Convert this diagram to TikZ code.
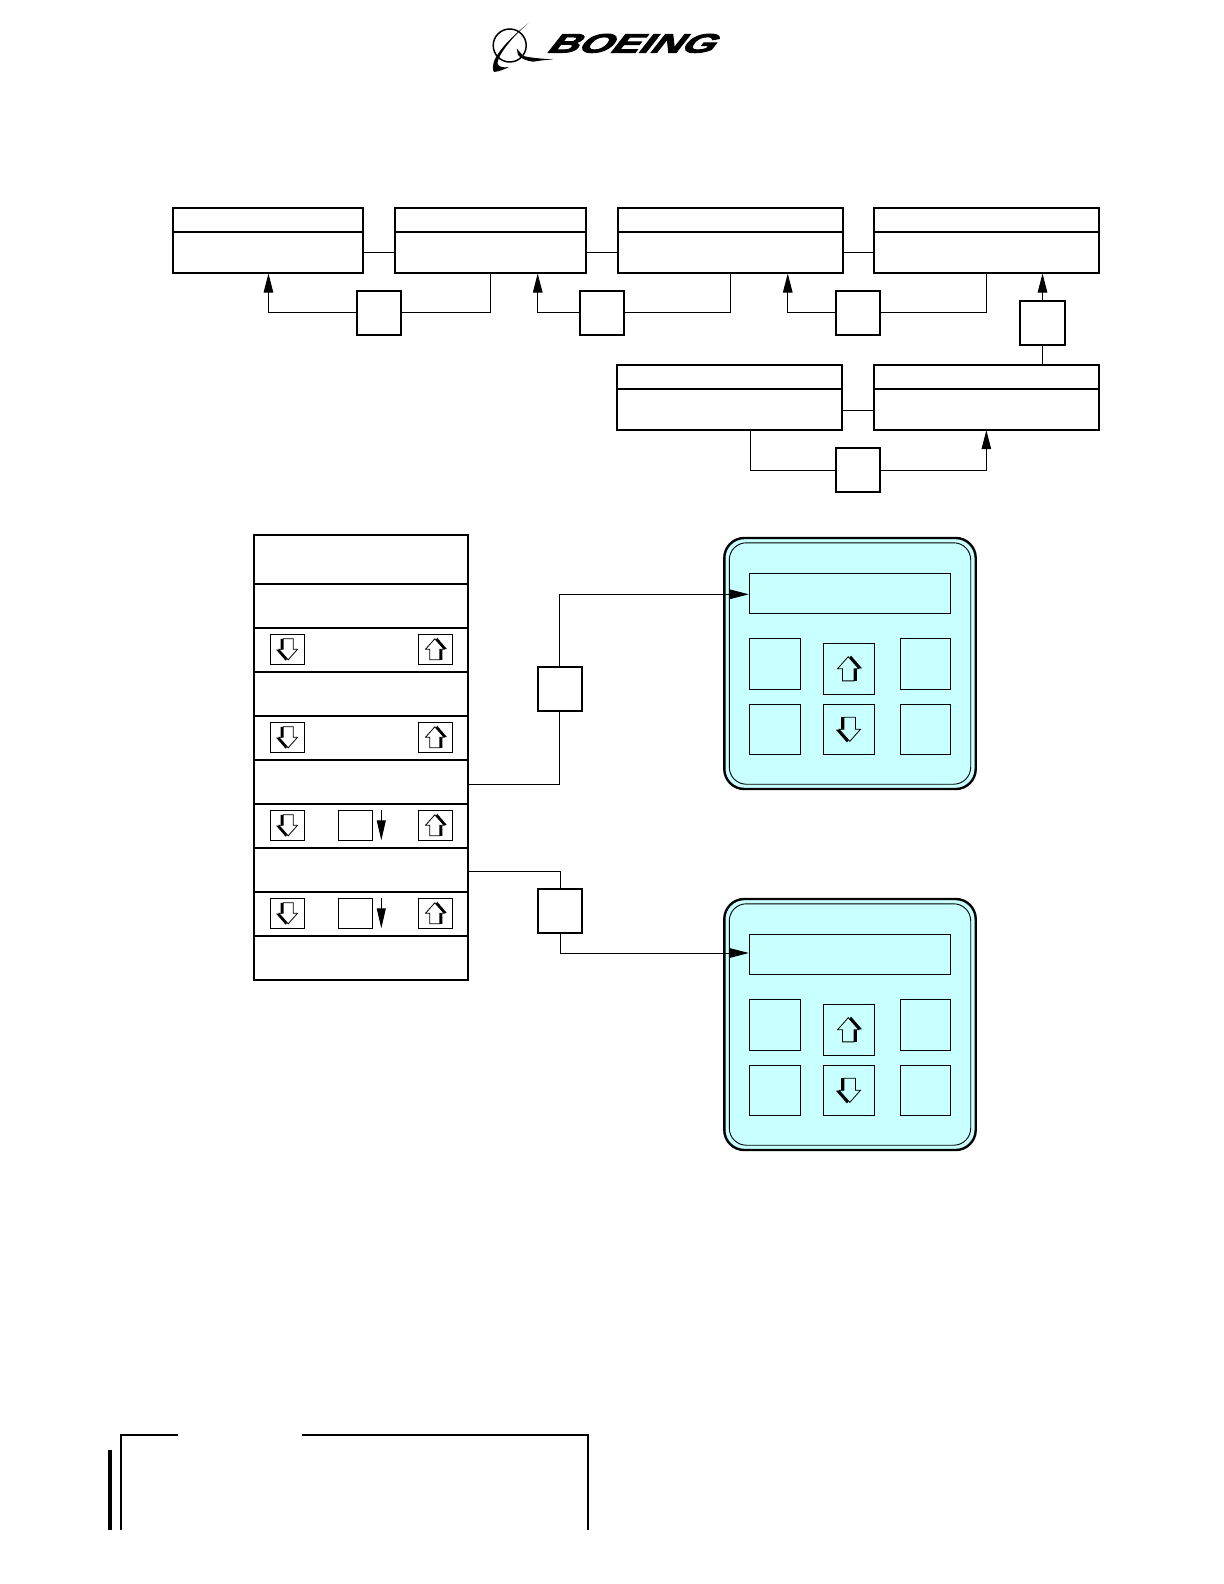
\documentclass[tikz,border=0pt]{standalone}
\usepackage{fontspec}
\usepackage{tikz}
\usepackage{xcolor}
\usetikzlibrary{arrows.meta,positioning}

\newfontfamily\logofont[UprightFont=* Bold,FakeSlant=0.5,FakeBold=3]{Liberation Sans}
\definecolor{panelcyan}{HTML}{C8FFFF}

\tikzset{
    keyup/.pic={
        \fill[black] (1.8,-11.4) -- (11.4,-.3) -- (6.8,-.3) -- (6.8,10.5) -- (-3.2,10.5) -- (-3.2,0) -- (-7.5,0) -- cycle;
        \draw[fill=#1, line width=.8pt] (-.7,-10.5) -- (8.6,0) -- (4.3,0) -- (4.3,10.5) -- (-5.7,10.5) -- (-5.7,0) -- (-10,0) -- cycle;
    },
    panel/.pic={
        \node[panelback] (-back) at (0,0) {};
        \node[panelinner] (-inner) at (0,0) {};
        \node[screenbox] (-screen) at (-.2,-70.2) {};
        \node[panelkey, minimum height=51pt] (-keya) at (-75,.3) {};
        \node[panelkey, minimum height=51pt] (-keyb) at (-1,5.3) {};
        \node[panelkey, minimum width=50pt, minimum height=51pt] (-keyc) at (75.3,.3) {};
        \node[panelkey] (-keyd) at (-75,65.8) {};
        \node[panelkey] (-keye) at (-1,65.8) {};
        \node[panelkey, minimum width=50pt] (-keyf) at (75.3,65.8) {};
        \pic[scale=1.15] at (-1,5.3) {keyup=panelcyan};
        \pic[scale=1.15, rotate=180] at (-1,65.8) {keyup=panelcyan};
    }
}

\begin{document}
\begin{tikzpicture}[
    x=1pt, y=-1pt,
    >={Triangle[length=19pt,width=9.5pt]},
    headbox/.style={rectangle, draw, line width=2pt, outer sep=0pt, minimum height=24pt},
    bodybox/.style={rectangle, draw, line width=2pt, outer sep=0pt, minimum height=41pt},
    stepsquare/.style={rectangle, draw, line width=2pt, outer sep=0pt, minimum size=44pt},
    rowbox/.style={rectangle, draw, line width=2pt, outer sep=0pt, minimum width=214pt, minimum height=44pt},
    rowkey/.style={rectangle, draw, line width=.9pt, outer sep=0pt, minimum width=34.4pt, minimum height=30pt, yshift=.7pt},
    panelback/.style={rectangle, draw, line width=2.4pt, fill=panelcyan, rounded corners=20pt, minimum width=251.4pt, minimum height=251pt},
    panelinner/.style={rectangle, draw, line width=.9pt, rounded corners=17pt, minimum width=241.4pt, minimum height=241.4pt},
    screenbox/.style={rectangle, draw, line width=.9pt, outer sep=0pt, minimum width=201pt, minimum height=40pt},
    panelkey/.style={rectangle, draw, line width=.9pt, outer sep=0pt, minimum width=51.4pt, minimum height=50pt},
    link/.style={line width=1pt},
    arrow/.style={->, line width=1pt, shorten >=.5pt},
    downtick/.style={-{Triangle[length=20pt,width=9pt]}, line width=1pt},
    rule/.style={line width=2pt}
]
\useasboundingbox (0,0) rectangle (1223,1584);

% logo
\draw[line width=1.5pt] (509.7,45.5) circle (16.5);
\fill (528.3,23.3) .. controls (512,36) and (499,50) .. (494.5,60) .. controls (492.5,65) and (492.5,70) .. (494,72)
    .. controls (499,71.5) and (504,69.5) .. (509,67) .. controls (503,68) and (498,67) .. (497.5,63)
    .. controls (498,55) and (512,37) .. (528.3,23.3) -- cycle;
\fill (516.7,48.5) -- (523.3,56) .. controls (532,58) and (542,58.8) .. (553.3,59.3)
    .. controls (545,60) and (538,60.8) .. (533.3,61.7) .. controls (527,61) and (521,59) .. (518,55) -- cycle;
\node[inner sep=0pt] (logotext) at (628.5,43.4) {\resizebox{166pt}{18.7pt}{\logofont BOEING}};

% top chain
\node[headbox, minimum width=190.3pt, anchor=north west] (boxa) at (172.7,208) {};
\node[bodybox, minimum width=190.3pt, below=0pt of boxa] (bodya) {};
\node[headbox, minimum width=191pt, right=32pt of boxa] (boxb) {};
\node[bodybox, minimum width=191pt, below=0pt of boxb] (bodyb) {};
\node[headbox, minimum width=225.3pt, right=31.7pt of boxb] (boxc) {};
\node[bodybox, minimum width=225.3pt, below=0pt of boxc] (bodyc) {};
\node[headbox, minimum width=225.3pt, right=30.7pt of boxc] (boxd) {};
\node[bodybox, minimum width=225.3pt, below=0pt of boxd] (bodyd) {};

\node[headbox, minimum width=225.3pt, anchor=north west] (boxf) at (873.7,364.7) {};
\node[bodybox, minimum width=225.3pt, below=0pt of boxf] (bodyf) {};
\node[headbox, minimum width=225.3pt, left=31.7pt of boxf] (boxe) {};
\node[bodybox, minimum width=225.3pt, below=0pt of boxe] (bodye) {};

\node[stepsquare] (sqa) at (379.3,312.8) {};
\node[stepsquare] (sqb) at (602,312.8) {};
\node[stepsquare] (sqc) at (858,312.8) {};
\node[stepsquare, minimum width=45pt] (sqd) at (1042.5,322.8) {};
\node[stepsquare] (sqe) at (858,470.4) {};

\draw[link] (bodya.east) -- (bodya.east -| bodyb.west);
\draw[link] (bodyb.east) -- (bodyb.east -| bodyc.west);
\draw[link] (bodyc.east) -- (bodyc.east -| bodyd.west);
\draw[link] ([yshift=-1pt]bodye.east) -- ([yshift=-1pt]bodye.east -| bodyf.west);

\draw[arrow] (sqa.west) -| ([xshift=.6pt]bodya.south);
\draw[link] (sqa.east) -| (bodyb.south);
\draw[arrow] (sqb.west) -| ([xshift=47.2pt]bodyb.south);
\draw[link] (sqb.east) -| (bodyc.south);
\draw[arrow] (sqc.west) -| ([xshift=57.4pt]bodyc.south);
\draw[link] (sqc.east) -| (bodyd.south);
\draw[arrow] (sqd.north) -- (sqd.north |- bodyd.south);
\draw[link] (boxf.north -| sqd.south) -- (sqd.south);
\draw[link] ([xshift=21pt]bodye.south) |- (sqe.west);
\draw[arrow] (sqe.east) -| (bodyf.south);

% left column
\node[rowbox, minimum height=49pt, anchor=north west] (rowa) at (254,535) {};
\node[rowbox, below=0pt of rowa] (rowb) {};
\node[rowbox, below=0pt of rowb] (rowc) {};
\node[rowbox, below=0pt of rowc] (rowd) {};
\node[rowbox, below=0pt of rowd] (rowe) {};
\node[rowbox, below=0pt of rowe] (rowf) {};
\node[rowbox, below=0pt of rowf] (rowg) {};
\node[rowbox, below=0pt of rowg] (rowh) {};
\node[rowbox, below=0pt of rowh] (rowi) {};
\node[rowbox, below=0pt of rowi] (rowj) {};

\node[rowkey, right=16.3pt of rowc.west] (dnc) {};
\node[rowkey, left=15.3pt of rowc.east] (upc) {};
\node[rowkey, right=16.3pt of rowe.west] (dne) {};
\node[rowkey, left=15.3pt of rowe.east] (upe) {};
\node[rowkey, right=16.3pt of rowg.west] (dng) {};
\node[rowkey, left=15.3pt of rowg.east] (upg) {};
\node[rowkey] (midg) at ([xshift=-5.5pt]rowg.center) {};
\node[rowkey, right=16.3pt of rowi.west] (dni) {};
\node[rowkey, left=15.3pt of rowi.east] (upi) {};
\node[rowkey] (midi) at ([xshift=-5.5pt]rowi.center) {};

\pic[rotate=180] at (dnc) {keyup=white};
\pic at (upc) {keyup=white};
\pic[rotate=180] at (dne) {keyup=white};
\pic at (upe) {keyup=white};
\pic[rotate=180] at (dng) {keyup=white};
\pic at (upg) {keyup=white};
\pic[rotate=180] at (dni) {keyup=white};
\pic at (upi) {keyup=white};

\draw[downtick] ([xshift=8.6pt]midg.north east) -- ([xshift=8.6pt]midg.south east);
\draw[downtick] ([xshift=8.6pt]midi.north east) -- ([xshift=8.6pt]midi.south east);

% panels
\pic (pa) at (850,663.5) {panel};
\pic (pb) at (850,1024.5) {panel};

\node[stepsquare] (sqf) at (560,689) {};
\node[stepsquare] (sqg) at (560,910.8) {};

\draw[link] ([yshift=-2.4pt]rowf.east) -| ([xshift=-.4pt]sqf.south);
\draw[arrow] ([xshift=-.4pt]sqf.north) |- ([yshift=-1pt]pa-screen.west);
\draw[link] ([yshift=-1.5pt]rowh.east) -| (sqg.north);
\draw[arrow] (sqg.south) |- ([yshift=1.3pt]pb-screen.west);

% footer
\draw[rule] (177.7,1435) -- (120.7,1435) -- (120.7,1530);
\draw[rule] (302,1435) -- (588.3,1435) -- (588.3,1530);
\draw[line width=4pt] (110,1450) -- (110,1530);

\end{tikzpicture}
\end{document}
